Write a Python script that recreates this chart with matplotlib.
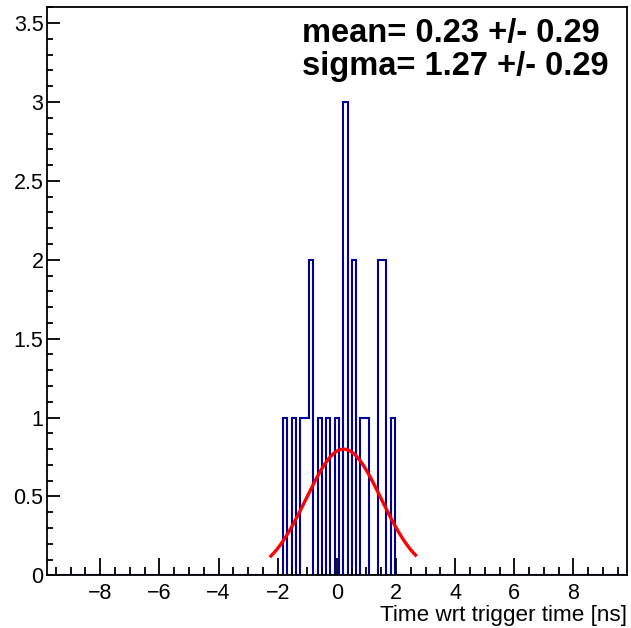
import numpy as np
import matplotlib
matplotlib.use("Agg")
import matplotlib.pyplot as plt
from matplotlib.ticker import MultipleLocator

plt.rcParams['font.family'] = ['Liberation Sans', 'DejaVu Sans']

# -------- data --------
x_lo, x_hi, n_bins = -9.8, 9.8, 135
filled_bins = [55, 57, 59, 60, 61, 63, 65, 67, 69, 71, 73, 74, 77, 78, 80]
filled_counts = [1, 1, 1, 1, 2, 1, 1, 1, 3, 2, 1, 1, 2, 2, 1]

fit_mean, fit_mean_err = 0.23, 0.29
fit_sigma, fit_sigma_err = 1.27, 0.29
fit_amp = 0.80
fit_range = (-2.23, 2.66)

edges = np.linspace(x_lo, x_hi, n_bins + 1)
counts = np.zeros(n_bins)
counts[filled_bins] = filled_counts

# -------- plot --------
fig = plt.figure(figsize=(6.31, 6.28), dpi=100)
ax = fig.add_axes([0.0745, 0.0838, 0.9187, 0.9046])

ax.stairs(counts, edges, baseline=0, color='#000099', lw=1.5)

xf = np.linspace(fit_range[0], fit_range[1], 300)
yf = fit_amp * np.exp(-0.5 * ((xf - fit_mean) / fit_sigma) ** 2)
ax.plot(xf, yf, color='#ff0000', lw=2.4)

ax.set_xlim(x_lo, x_hi)
ax.set_ylim(0, 3.6)

ax.xaxis.set_minor_locator(MultipleLocator(0.5))
ax.yaxis.set_minor_locator(MultipleLocator(0.1))
ax.set_yticks([0, 0.5, 1, 1.5, 2, 2.5, 3, 3.5])
ax.set_yticklabels(['0', '0.5', '1', '1.5', '2', '2.5', '3', '3.5'])
ax.set_xticks([-8, -6, -4, -2, 0, 2, 4, 6, 8])
ax.set_xticklabels(['\u22128', '\u22126', '\u22124', '\u22122', '0', '2', '4', '6', '8'])

ax.tick_params(axis='x', which='major', direction='in', length=12, width=1.3,
               labelsize=15.5, pad=5.5)
ax.tick_params(axis='x', which='minor', direction='in', length=6, width=1.3)
ax.tick_params(axis='y', which='major', direction='in', length=9, width=1.3,
               labelsize=15.5, pad=2.5)
ax.tick_params(axis='y', which='minor', direction='in', length=4.5, width=1.3)

for s in ax.spines.values():
    s.set_linewidth(1.3)

fig.text(0.994, 0.0115, 'Time wrt trigger time [ns]', ha='right', va='baseline',
         fontsize=16.2)

fig.text(0.479, 0.933, f'mean= {fit_mean:.2f} +/- {fit_mean_err:.2f}',
         fontsize=23.5, fontweight='bold', ha='left', va='baseline')
fig.text(0.479, 0.881, f'sigma= {fit_sigma:.2f} +/- {fit_sigma_err:.2f}',
         fontsize=23.5, fontweight='bold', ha='left', va='baseline')

fig.savefig('out.png', dpi=100)
